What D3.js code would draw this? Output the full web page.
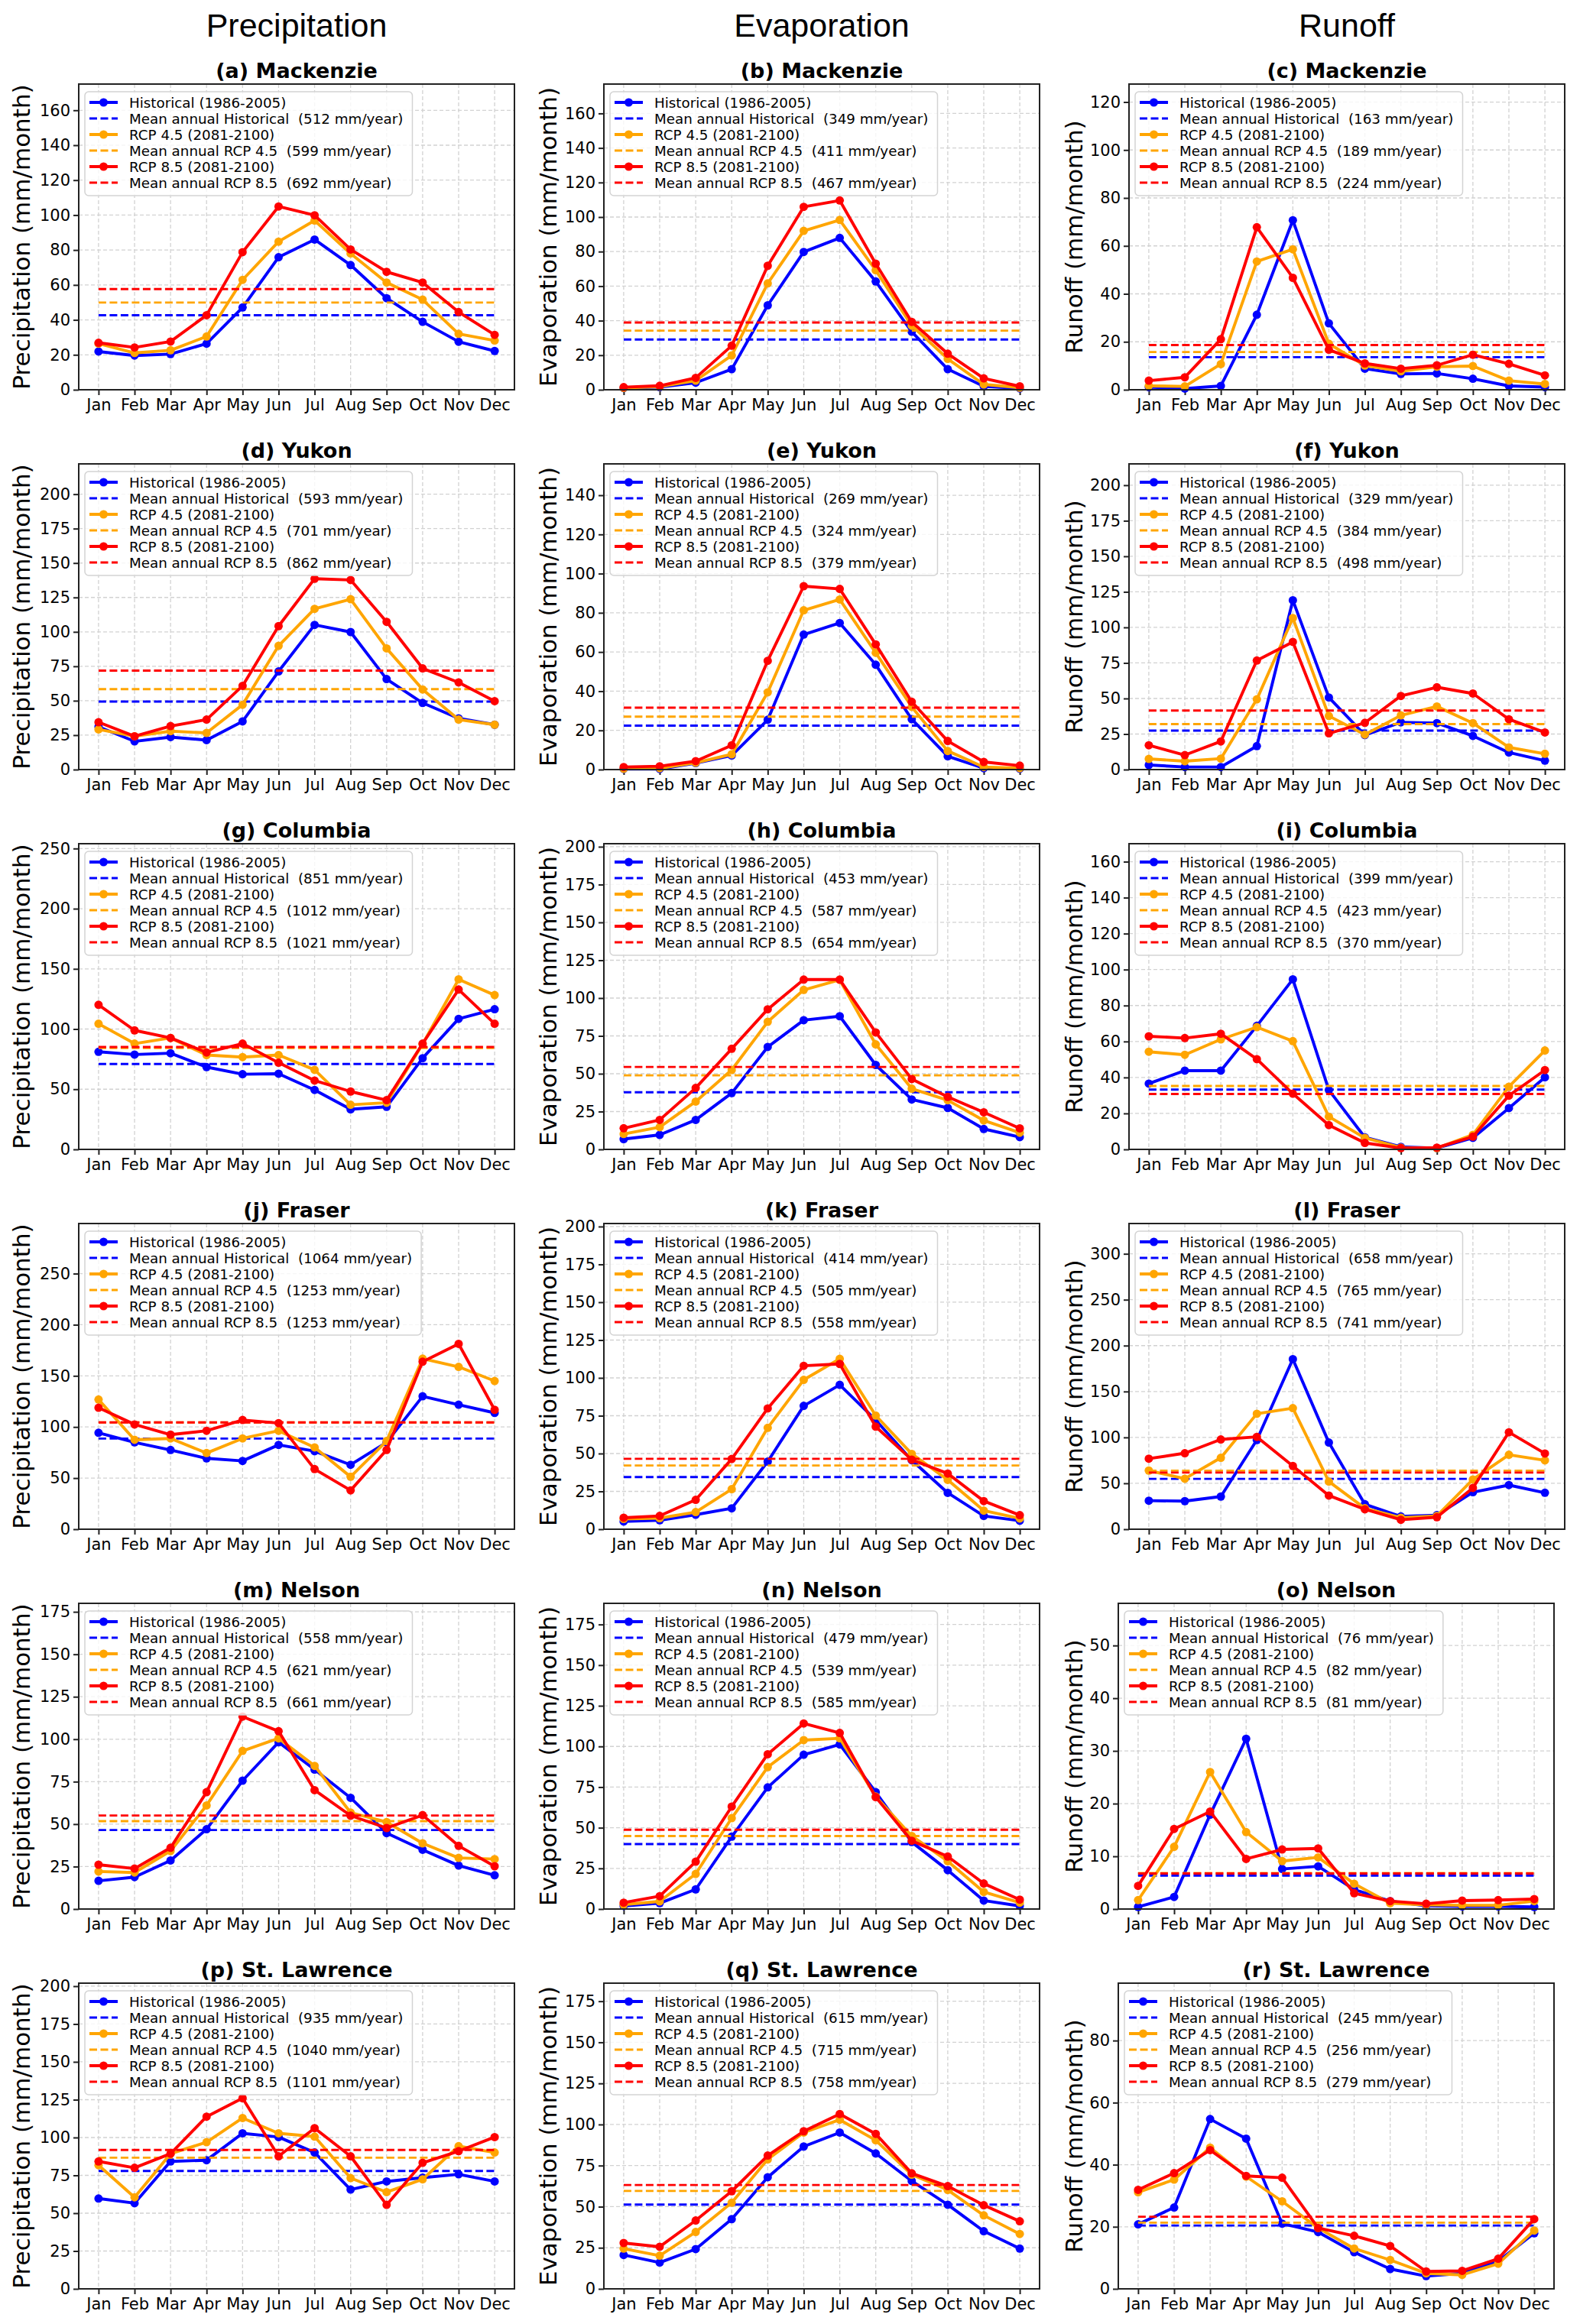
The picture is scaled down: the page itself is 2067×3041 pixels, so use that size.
<!DOCTYPE html>
<html>
<meta charset="utf-8">
<title>Monthly precipitation, evaporation and runoff</title>
<style>
    body { margin: 0; background: #fff; }
    .grid { stroke: #d2d2d2; stroke-width: 1.3px; stroke-dasharray: 5,3; }
    .axis text { font-family: 'DejaVu Sans', sans-serif; font-size: 21px; fill: #000; }
    .axis line { stroke: #222; stroke-width: 2px; }
</style>
<script src="https://d3js.org/d3.v7.min.js" charset="utf-8"></script>
<body>
<script>
    const months = ["Jan", "Feb", "Mar", "Apr", "May", "Jun", "Jul", "Aug", "Sep", "Oct", "Nov", "Dec"]
    const basins = ["Mackenzie", "Yukon", "Columbia", "Fraser", "Nelson", "St. Lawrence"]
    const variables = ["Precipitation", "Evaporation", "Runoff"]
    const letters = "abcdefghijklmnopqr".split("")
    const scenarios = ["Historical", "RCP 4.5", "RCP 8.5"]
    const periods = ["1986-2005", "2081-2100", "2081-2100"]
    const colors = ["#0000ff", "#ffa500", "#ff0000"]

    // each block: [historical, rcp4.5, rcp8.5], mm/month
    const mackenziePrecip = [
        [21.9, 19.6, 20.4, 26.4, 47.1, 75.9, 86.0, 71.4, 52.4, 38.9, 27.5, 22.2],
        [26.4, 21.1, 22.6, 30.5, 62.9, 84.8, 96.9, 78.0, 61.4, 51.6, 32.0, 28.2],
        [26.9, 24.2, 27.6, 42.7, 78.8, 104.9, 99.9, 80.3, 67.5, 61.4, 44.5, 31.4]]
    const mackenzieEvap = [
        [1.0, 1.5, 4.1, 11.9, 48.9, 79.8, 87.9, 62.7, 33.6, 11.9, 2.0, 0.8],
        [1.1, 1.8, 5.3, 19.9, 61.6, 92.0, 98.3, 69.2, 37.1, 17.9, 3.1, 1.2],
        [1.5, 2.3, 6.9, 25.5, 71.8, 105.9, 109.6, 73.0, 39.3, 20.9, 6.6, 2.0]]
    const mackenzieRunoff = [
        [1.1, 0.5, 1.6, 31.3, 70.7, 27.7, 8.8, 6.6, 6.8, 4.6, 1.6, 1.1],
        [1.6, 1.4, 10.7, 53.5, 58.6, 19.2, 10.1, 7.7, 9.6, 9.9, 3.8, 2.4],
        [3.8, 5.2, 21.1, 67.8, 46.7, 16.7, 11.0, 8.8, 10.2, 14.6, 10.8, 6.0]]
    const mackenzieAnnual = [[512, 599, 692], [349, 411, 467], [163, 189, 224]]

    const yukonPrecip = [
        [31.1, 20.5, 23.6, 21.4, 35.0, 71.3, 105.1, 99.9, 65.7, 48.4, 37.2, 32.6],
        [29.2, 24.2, 27.9, 26.6, 47.1, 89.9, 116.7, 123.7, 88.0, 58.2, 36.3, 32.6],
        [34.4, 24.2, 31.6, 36.3, 60.8, 104.2, 138.6, 137.7, 107.3, 73.5, 63.3, 49.7]]
    const yukonEvap = [
        [0.3, 0.3, 3.3, 7.2, 25.4, 68.9, 74.8, 53.5, 25.7, 6.8, 0.7, 0.4],
        [0.4, 0.7, 3.5, 7.8, 39.4, 81.3, 86.8, 59.6, 32.0, 9.5, 1.3, 0.7],
        [1.3, 1.7, 4.3, 12.4, 55.5, 93.6, 92.2, 63.9, 34.6, 14.6, 3.9, 2.0]]
    const yukonRunoff = [
        [3.2, 1.8, 1.8, 16.5, 119.1, 50.7, 24.3, 33.2, 32.7, 23.7, 12.0, 6.3],
        [7.5, 5.9, 7.7, 49.4, 106.6, 37.7, 24.6, 38.1, 44.4, 32.7, 15.6, 11.1],
        [17.1, 10.2, 19.8, 76.7, 89.8, 25.5, 32.9, 51.8, 57.9, 53.5, 35.4, 26.1]]
    const yukonAnnual = [[593, 701, 862], [269, 324, 379], [329, 384, 498]]

    const columbiaPrecip = [
        [81.1, 78.8, 79.9, 68.4, 62.5, 62.9, 49.4, 33.3, 35.4, 75.8, 108.5, 116.5],
        [104.4, 87.9, 92.6, 78.4, 76.7, 78.4, 66.1, 37.1, 38.8, 87.5, 141.3, 128.2],
        [120.1, 98.9, 92.6, 80.5, 87.9, 72.0, 57.2, 48.1, 40.9, 87.9, 132.8, 104.4]]
    const columbiaEvap = [
        [6.8, 9.6, 19.5, 37.2, 67.7, 85.4, 88.0, 55.8, 33.0, 27.4, 13.5, 8.1],
        [10.2, 14.7, 31.6, 52.5, 84.3, 105.4, 112.0, 69.4, 40.1, 32.5, 19.1, 11.0],
        [14.0, 19.5, 40.6, 66.5, 92.6, 112.2, 112.2, 77.3, 46.5, 34.7, 24.5, 13.9]]
    const columbiaRunoff = [
        [36.6, 43.8, 43.8, 68.7, 94.6, 33.0, 6.7, 1.4, 0.7, 6.4, 23.0, 40.1],
        [54.3, 52.6, 61.2, 68.0, 60.2, 18.2, 6.4, 1.0, 0.7, 8.1, 34.9, 55.0],
        [62.9, 61.9, 64.3, 50.2, 31.0, 13.5, 3.6, 0.7, 1.0, 7.1, 29.9, 44.1]]
    const columbiaAnnual = [[851, 1012, 1021], [453, 587, 654], [399, 423, 370]]

    const fraserPrecip = [
        [94.3, 85.0, 77.5, 69.3, 66.8, 82.5, 76.3, 63.0, 85.0, 130.0, 121.8, 113.8],
        [126.8, 87.5, 88.8, 74.5, 88.8, 96.3, 80.0, 51.3, 86.3, 166.8, 158.8, 145.0],
        [118.8, 102.5, 92.5, 96.3, 106.8, 103.8, 58.8, 38.0, 77.5, 163.8, 181.3, 116.8]]
    const fraserEvap = [
        [5.1, 5.9, 9.6, 13.8, 44.7, 81.5, 95.4, 72.1, 45.6, 24.0, 8.8, 5.6],
        [6.8, 7.3, 11.3, 26.5, 67.0, 98.7, 112.6, 75.1, 49.8, 32.6, 12.3, 7.1],
        [7.6, 8.8, 19.4, 46.4, 79.8, 108.0, 109.2, 67.8, 45.9, 36.8, 18.6, 9.3]]
    const fraserRunoff = [
        [31.1, 30.6, 35.6, 97.2, 185.3, 94.4, 27.2, 13.9, 15.3, 40.3, 48.1, 39.7],
        [63.9, 55.0, 77.8, 125.8, 131.9, 51.9, 22.8, 12.5, 14.4, 54.2, 81.1, 75.0],
        [76.9, 82.8, 97.8, 100.6, 68.9, 36.7, 21.7, 10.3, 13.1, 45.0, 105.6, 82.5]]
    const fraserAnnual = [[1064, 1253, 1253], [414, 505, 558], [658, 765, 741]]

    const nelsonPrecip = [
        [16.6, 18.8, 28.6, 47.0, 75.6, 98.2, 82.1, 65.5, 44.7, 34.9, 25.6, 19.9],
        [22.1, 21.5, 34.2, 61.0, 93.1, 100.5, 84.3, 56.8, 51.2, 38.7, 30.1, 29.4],
        [26.1, 23.8, 36.1, 68.8, 113.3, 104.7, 70.0, 55.0, 47.7, 55.3, 37.2, 25.2]]
    const nelsonEvap = [
        [1.9, 3.6, 12.1, 44.5, 74.8, 94.9, 101.2, 71.9, 41.2, 23.9, 5.2, 1.9],
        [2.7, 4.7, 21.6, 55.9, 87.3, 103.9, 105.0, 69.2, 44.9, 29.4, 10.5, 3.9],
        [3.9, 7.9, 29.1, 63.0, 95.2, 114.1, 108.3, 68.8, 42.0, 32.3, 15.7, 5.8]]
    const nelsonRunoff = [
        [0.4, 2.3, 17.9, 32.3, 7.6, 8.1, 3.7, 1.5, 0.6, 0.5, 0.5, 0.4],
        [1.7, 11.8, 26.0, 14.6, 9.1, 9.8, 4.8, 1.1, 0.8, 0.7, 0.7, 1.5],
        [4.4, 15.2, 18.5, 9.5, 11.3, 11.5, 3.0, 1.5, 1.0, 1.6, 1.7, 1.9]]
    const nelsonAnnual = [[558, 621, 661], [479, 539, 585], [76, 82, 81]]

    const stLawrencePrecip = [
        [59.7, 56.6, 84.2, 85.0, 102.8, 100.3, 90.1, 65.6, 71.0, 73.5, 75.7, 71.0],
        [81.7, 60.5, 89.3, 96.9, 112.9, 102.8, 100.6, 73.2, 63.9, 72.4, 94.3, 90.1],
        [84.2, 80.0, 89.3, 113.8, 126.0, 87.6, 106.2, 87.6, 55.5, 83.3, 91.0, 100.3]]
    const stLawrenceEvap = [
        [20.6, 16.0, 24.2, 42.4, 67.9, 86.6, 95.1, 82.4, 65.6, 51.2, 35.1, 24.5],
        [24.5, 20.2, 34.6, 52.4, 78.8, 95.1, 102.9, 90.4, 69.5, 60.2, 44.7, 33.4],
        [27.9, 25.6, 41.6, 59.4, 81.1, 95.9, 106.4, 94.3, 70.3, 62.5, 50.9, 41.1]]
    const stLawrenceRunoff = [
        [20.8, 26.2, 54.7, 48.4, 21.0, 18.3, 11.8, 6.4, 4.1, 5.0, 8.9, 17.9],
        [31.1, 35.2, 45.5, 36.2, 28.2, 19.6, 13.0, 9.3, 5.0, 4.5, 8.1, 18.8],
        [31.9, 37.3, 44.7, 36.4, 35.8, 19.6, 17.1, 13.8, 5.6, 5.8, 9.7, 22.5]]
    const stLawrenceAnnual = [[935, 1040, 1101], [615, 715, 758], [245, 256, 279]]

    // y axis upper limit and tick step, panel order a..r
    const yMax = [175, 177, 127.5, 222, 156, 215, 254, 202, 170, 299, 202, 333, 180, 188, 58, 202, 186, 98.5]
    const yStep = [20, 20, 20, 25, 20, 25, 50, 25, 20, 50, 25, 50, 25, 25, 10, 25, 25, 20]

    const seriesByBasin = [
        [mackenziePrecip, mackenzieEvap, mackenzieRunoff],
        [yukonPrecip, yukonEvap, yukonRunoff],
        [columbiaPrecip, columbiaEvap, columbiaRunoff],
        [fraserPrecip, fraserEvap, fraserRunoff],
        [nelsonPrecip, nelsonEvap, nelsonRunoff],
        [stLawrencePrecip, stLawrenceEvap, stLawrenceRunoff]]
    const annualByBasin = [mackenzieAnnual, yukonAnnual, columbiaAnnual, fraserAnnual, nelsonAnnual, stLawrenceAnnual]

    // layout
    const W = 2067, H = 3041
    const colLeft = [103, 790, 1477]
    const ylabelX = [39, 728, 1416]
    const plotW = 570, plotH = 400, rowStep = 497, firstTop = 110

    const svg = d3.select("body").append("svg")
        .attr("width", W).attr("height", H)
        .style("font-family", "'DejaVu Sans', sans-serif")
    svg.append("rect").attr("width", W).attr("height", H).attr("fill", "#fff")

    variables.forEach((v, c) => {
        svg.append("text")
            .attr("x", colLeft[c] + plotW / 2).attr("y", 48)
            .attr("text-anchor", "middle")
            .style("font-family", "'Liberation Sans', Arial, sans-serif")
            .style("font-size", "43px")
            .text(v)
    })

    function drawPanel(r, c) {
        const k = r * 3 + c
        const series = seriesByBasin[r][c]
        const annual = annualByBasin[r][c]
        const top = firstTop + r * rowStep
        const maxTick = Math.floor(yMax[k] / yStep[k] + 1e-9) * yStep[k]
        const left = colLeft[c] - (maxTick < 100 ? 14 : 0)

        const x = d3.scaleLinear().domain([-0.55, 11.55]).range([0, plotW])
        const y = d3.scaleLinear().domain([0, yMax[k]]).range([plotH, 0])
        const ticks = d3.range(0, maxTick + 1e-9, yStep[k])

        const g = svg.append("g").attr("transform", `translate(${left},${top})`)

        // grid
        g.append("g").selectAll("line").data(months).join("line")
            .attr("class", "grid")
            .attr("x1", (d, i) => x(i)).attr("x2", (d, i) => x(i))
            .attr("y1", 0).attr("y2", plotH)
        g.append("g").selectAll("line").data(ticks).join("line")
            .attr("class", "grid")
            .attr("x1", 0).attr("x2", plotW)
            .attr("y1", d => y(d)).attr("y2", d => y(d))

        // axes
        g.append("g").attr("class", "axis")
            .attr("transform", `translate(0,${plotH})`)
            .call(d3.axisBottom(x).tickValues(d3.range(12)).tickFormat(i => months[i])
                .tickSize(7).tickPadding(5))
        g.append("g").attr("class", "axis")
            .call(d3.axisLeft(y).tickValues(ticks).tickFormat(d3.format("d"))
                .tickSize(7).tickPadding(4))
        g.selectAll(".axis .domain").remove()

        // data
        const line = d3.line().x((d, i) => x(i)).y(d => y(d))
        series.forEach((vals, s) => {
            g.append("path").datum(vals)
                .attr("d", line)
                .attr("fill", "none")
                .attr("stroke", colors[s])
                .attr("stroke-width", 3.9)
                .attr("stroke-linejoin", "round")
            g.append("g").selectAll("circle").data(vals).join("circle")
                .attr("cx", (d, i) => x(i)).attr("cy", d => y(d))
                .attr("r", 5.5).attr("fill", colors[s])
            const m = annual[s] / 12
            g.append("line")
                .attr("x1", x(0)).attr("x2", x(11))
                .attr("y1", y(m)).attr("y2", y(m))
                .attr("stroke", colors[s]).attr("stroke-width", 2.9)
                .attr("stroke-dasharray", "10,4.5")
        })

        // spines
        g.append("rect")
            .attr("width", plotW).attr("height", plotH)
            .attr("fill", "none").attr("stroke", "#222").attr("stroke-width", 2)

        // legend
        const labels = []
        scenarios.forEach((sc, s) => {
            labels.push({ s: s, dash: false, t: `${sc} (${periods[s]})` })
            labels.push({ s: s, dash: true, t: `Mean annual ${sc}  (${annual[s]} mm/year)` })
        })
        const lg = g.append("g").attr("transform", "translate(8,10)")
        const box = lg.append("rect")
            .attr("height", 136).attr("rx", 5)
            .attr("fill", "#fff").attr("fill-opacity", 0.8)
            .attr("stroke", "#d3d3d3").attr("stroke-width", 1.5)
        const items = lg.selectAll("g.item").data(labels).join("g")
            .attr("class", "item")
            .attr("transform", (d, i) => `translate(0,${14 + i * 21})`)
        items.append("line")
            .attr("x1", 6).attr("x2", 43)
            .attr("stroke", d => colors[d.s])
            .attr("stroke-width", d => d.dash ? 2.9 : 3.9)
            .attr("stroke-dasharray", d => d.dash ? "10,4.5" : null)
        items.filter(d => !d.dash).append("circle")
            .attr("cx", 24.5).attr("r", 5.5).attr("fill", d => colors[d.s])
        const texts = items.append("text")
            .attr("x", 58).attr("dy", "0.36em")
            .style("font-size", "18.3px")
            .style("white-space", "pre")
            .text(d => d.t)
        let maxW = 0
        texts.each(function () { maxW = Math.max(maxW, this.getComputedTextLength()) })
        box.attr("width", 58 + maxW + 12)

        // title
        g.append("text")
            .attr("x", plotW / 2).attr("y", -8)
            .attr("text-anchor", "middle")
            .style("font-weight", "bold").style("font-size", "27px")
            .text(`(${letters[k]}) ${basins[r]}`)

        // y label
        svg.append("text")
            .attr("transform", `translate(${ylabelX[c]},${top + plotH / 2}) rotate(-90)`)
            .attr("text-anchor", "middle")
            .style("font-size", "31px")
            .text(`${variables[c]} (mm/month)`)
    }

    basins.forEach((b, r) => variables.forEach((v, c) => drawPanel(r, c)))
</script>
</body>
</html>
